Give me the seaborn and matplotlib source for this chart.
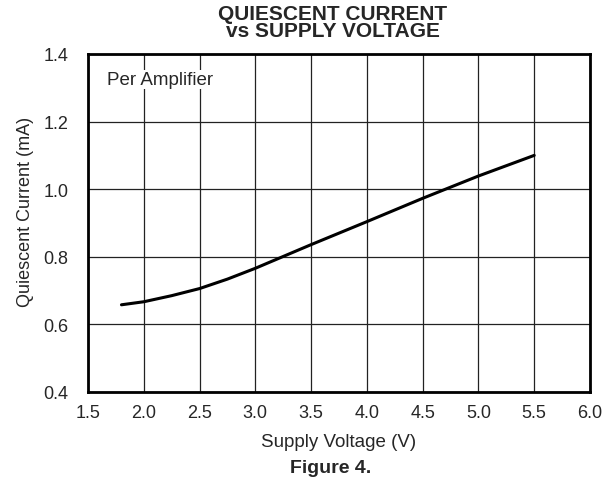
import numpy as np
import pandas as pd
import matplotlib
matplotlib.use('Agg')
import matplotlib.pyplot as plt
import seaborn as sns

# Datos
voltage = [1.8, 2.0, 2.25, 2.5, 2.75, 3.0, 3.25, 3.5, 3.75, 4.0, 4.5, 5.0, 5.5]
current = [0.658, 0.667, 0.685, 0.706, 0.734, 0.766, 0.801, 0.836, 0.870, 0.904, 0.973, 1.039, 1.100]
x_ticks = [1.5, 2.0, 2.5, 3.0, 3.5, 4.0, 4.5, 5.0, 5.5, 6.0]
y_ticks = [0.4, 0.6, 0.8, 1.0, 1.2, 1.4]

sns.set_style('white')
plt.rcParams['font.family'] = ['Liberation Sans', 'DejaVu Sans']

df = pd.DataFrame({'Voltage': voltage, 'Current': current})

fig = plt.figure(figsize=(6.12, 4.85), dpi=100)
ax = fig.add_axes([0.1438, 0.1897, 0.8202, 0.6969])

sns.lineplot(data=df, x='Voltage', y='Current', color='black', linewidth=2.2, ax=ax)

ax.set_xlim(1.5, 6.0)
ax.set_ylim(0.4, 1.4)
ax.set_xticks(x_ticks)
ax.set_yticks(y_ticks)
ax.set_xticklabels([f'{v:.1f}' for v in x_ticks], fontsize=13)
ax.set_yticklabels([f'{v:.1f}' for v in y_ticks], fontsize=13)
ax.tick_params(axis='x', length=0, pad=9)
ax.tick_params(axis='y', length=0, pad=14)
ax.grid(True, color='#222222', linewidth=0.9)
ax.set_axisbelow(True)
for s in ax.spines.values():
    s.set_color('black')
    s.set_linewidth(2)

ax.set_xlabel('Supply Voltage (V)', fontsize=13.5, labelpad=8)
ax.set_ylabel('Quiescent Current (mA)', fontsize=13)
ax.yaxis.set_label_coords(-0.108, 0.535)

ax.text(1.67, 1.325, 'Per Amplifier', fontsize=13.5, va='center', ha='left',
        bbox=dict(facecolor='white', edgecolor='none', pad=1))

fig.text(0.544, 0.952, 'QUIESCENT CURRENT\nvs SUPPLY VOLTAGE', ha='center', va='center',
         fontsize=15, fontweight='bold', linespacing=0.88)
fig.text(0.54, 0.035, 'Figure 4.', ha='center', va='center', fontsize=14, fontweight='bold')

fig.savefig('out.png', dpi=100)
